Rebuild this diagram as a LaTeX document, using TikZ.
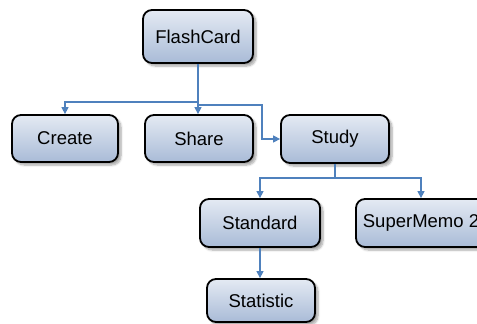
\documentclass[tikz,border=0pt]{standalone}
\usepackage{fontspec}
\setmainfont{Liberation Sans}
\usetikzlibrary{arrows.meta,shadows.blur}
\definecolor{linkblue}{HTML}{4F81BD}
\definecolor{boxtop}{HTML}{E4EAF3}
\definecolor{boxbottom}{HTML}{A9BBD7}
\tikzset{
  card/.style={draw=black, line width=1.8pt, rounded corners=9pt,
    top color=boxtop, bottom color=boxbottom,
    blur shadow={shadow xshift=3pt, shadow yshift=-3pt, shadow blur steps=6, shadow opacity=35},
    font=\fontsize{18.5}{22}\selectfont, inner sep=0pt},
  conn/.style={draw=linkblue, line width=1.4pt, -{Triangle[length=7pt,width=7pt]}},
  link/.style={draw=linkblue, line width=1.4pt}
}
\begin{document}
\begin{tikzpicture}[x=1pt,y=-1pt]
\useasboundingbox (0,0) rectangle (477,324);
\clip (0,0) rectangle (477,324);
% boxes
\node[card, minimum width=110pt, minimum height=53pt] (fc) at (198,36.5) {FlashCard};
\node[card, minimum width=106pt, minimum height=47pt] (create) at (65,138.5) {Create};
\node[card, minimum width=108pt, minimum height=47pt] (share) at (199,138.5) {Share};
\node[card, minimum width=108pt, minimum height=48pt] (study) at (335,139) {Study};
\node[card, minimum width=120pt, minimum height=48pt] (standard) at (260,223) {Standard};
\node[card, minimum width=130pt, minimum height=48pt] (sm) at (421,223) {SuperMemo 2};
\node[card, minimum width=108pt, minimum height=43pt] (stat) at (261,300.5) {Statistic};
% junction points
\coordinate (ja) at (198,102);
\coordinate (jb) at (262,105);
\coordinate (jc) at (335,178);
% connectors
\draw[conn] (fc.south) -- (share.north -| fc.south);
\draw[conn] (ja) -| (create.north);
\draw[conn] (fc.south |- jb) -- (jb) |- (study.west);
\draw[link] (study.south) -- (jc);
\draw[conn] (jc) -| (standard.north);
\draw[conn] (jc) -| (sm.north);
\draw[conn] (standard.south) -- (stat.north -| standard.south);
\end{tikzpicture}
\end{document}
